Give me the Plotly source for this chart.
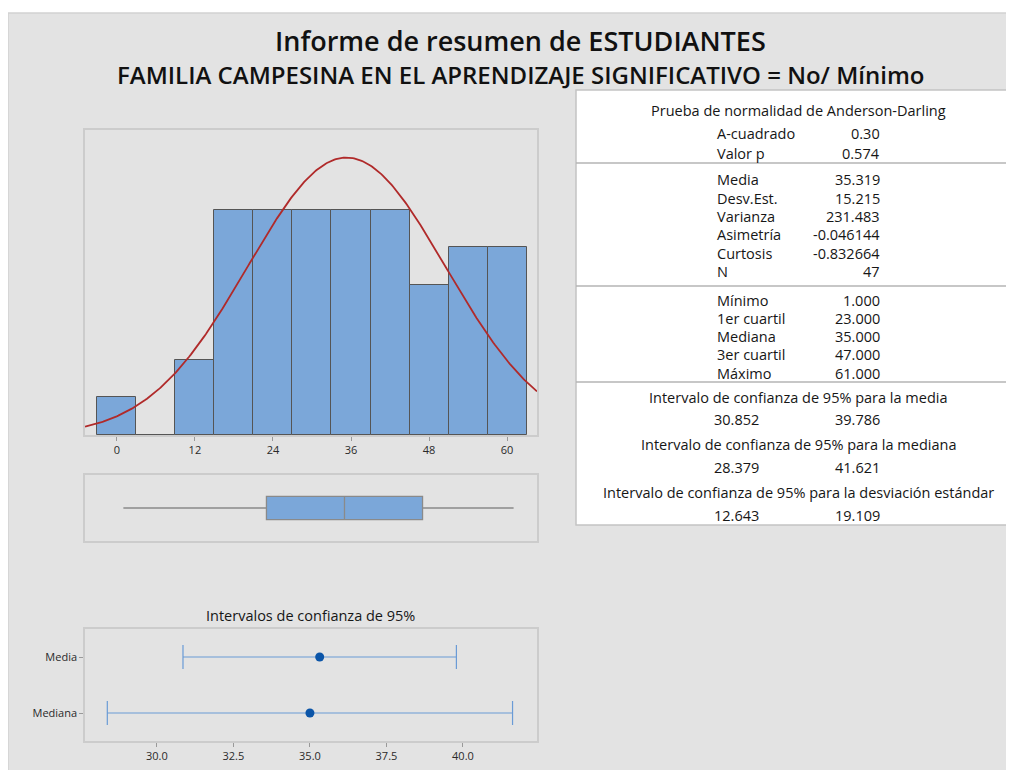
import numpy as np
import plotly.graph_objects as go

# histogram data (bin width 6)
bin_centers = [0, 6, 12, 18, 24, 30, 36, 42, 48, 54, 60]
counts = [1, 0, 2, 6, 6, 6, 6, 6, 4, 5, 5]
hist_ticks = [0, 12, 24, 36, 48, 60]

# summary statistics
media = 35.319
desv = 15.215
n = 47
minimo, q1, mediana, q3, maximo = 1.0, 23.0, 35.0, 47.0, 61.0

# confidence intervals
ci_names = ["Media", "Mediana"]
ci_center = [35.319, 35.0]
ci_low = [30.852, 28.379]
ci_high = [39.786, 41.621]
ci_ticks = [30.0, 32.5, 35.0, 37.5, 40.0]

# table text
ad_rows = [("A-cuadrado", "0.30"), ("Valor p", "0.574")]
desc_rows = [("Media", "35.319"), ("Desv.Est.", "15.215"), ("Varianza", "231.483"),
             ("Asimetría", "-0.046144"), ("Curtosis", "-0.832664"), ("N", "47")]
quart_rows = [("Mínimo", "1.000"), ("1er cuartil", "23.000"), ("Mediana", "35.000"),
              ("3er cuartil", "47.000"), ("Máximo", "61.000")]
ci_rows = [("Intervalo de confianza de 95% para la media", "30.852", "39.786"),
           ("Intervalo de confianza de 95% para la mediana", "28.379", "41.621"),
           ("Intervalo de confianza de 95% para la desviación estándar", "12.643", "19.109")]

W, H = 1014, 770
OFF = 8  # page body margin
FONT = "Open Sans"
BLUE = "#7ba7d9"
EDGE = "#555555"
FRAME = "#cccccc"


def px(x):
    return (x - OFF) / W


def py(y):
    return 1 - (y - OFF) / H


fig = go.Figure()

# histogram
fig.add_trace(go.Bar(x=bin_centers, y=counts, width=6,
                     marker=dict(color=BLUE, line=dict(color=EDGE, width=1)),
                     xaxis="x", yaxis="y", hoverinfo="skip"))

# fitted normal curve
xr = [-4.9, 64.6]
xc = np.linspace(xr[0], xr[1], 300)
yc = n * 6 / (desv * np.sqrt(2 * np.pi)) * np.exp(-0.5 * ((xc - media) / desv) ** 2)
fig.add_trace(go.Scatter(x=xc, y=yc, mode="lines", line=dict(color="#b02a2a", width=1.8),
                         xaxis="x", yaxis="y", hoverinfo="skip"))

# boxplot
fig.add_trace(go.Box(y=[0], q1=[q1], median=[mediana], q3=[q3], lowerfence=[minimo],
                     upperfence=[maximo], orientation="h", width=0.7, whiskerwidth=0,
                     fillcolor=BLUE, line=dict(color="#8a8a8a", width=1.3),
                     xaxis="x2", yaxis="y2", hoverinfo="skip"))

# confidence intervals
fig.add_trace(go.Scatter(
    x=ci_center, y=[0, 1], mode="markers",
    marker=dict(color="#0b55a8", size=9),
    error_x=dict(type="data", symmetric=False,
                 array=[h - c for h, c in zip(ci_high, ci_center)],
                 arrayminus=[c - l for l, c in zip(ci_low, ci_center)],
                 color="#6a9bd6", thickness=1.2, width=12),
    xaxis="x3", yaxis="y3", hoverinfo="skip"))

axis_common = dict(showline=True, mirror=True, linecolor=FRAME, linewidth=1.5,
                   showgrid=False, zeroline=False)
tickfont = dict(family=FONT, size=11, color="#2a2a2a")

fig.update_layout(
    width=W, height=H, autosize=False,
    margin=dict(l=0, r=0, t=0, b=0),
    paper_bgcolor="white", plot_bgcolor="white",
    showlegend=False, bargap=0,
    xaxis=dict(domain=[px(85), px(537)], range=xr, tickvals=hist_ticks,
               ticks="outside", ticklen=4, tickcolor="#999999", tickfont=tickfont,
               anchor="y", **axis_common),
    yaxis=dict(domain=[py(435), py(130)], range=[0, 8.13], showticklabels=False,
               anchor="x", **axis_common),
    xaxis2=dict(domain=[px(85), px(537)], range=xr, showticklabels=False,
                anchor="y2", **axis_common),
    yaxis2=dict(domain=[py(541), py(475)], range=[-1, 1], showticklabels=False,
                anchor="x2", **axis_common),
    xaxis3=dict(domain=[px(85), px(537)], range=[27.65, 42.42], tickvals=ci_ticks,
                ticktext=[f"{t:.1f}" for t in ci_ticks],
                ticks="outside", ticklen=4, tickcolor="#999999", tickfont=tickfont,
                anchor="y3", **axis_common),
    yaxis3=dict(domain=[py(741), py(629)], range=[1.5, -0.5], tickvals=[0, 1],
                ticktext=ci_names, ticks="outside", ticklen=4, tickcolor="#999999",
                tickfont=tickfont, anchor="x3", **axis_common),
)

# background panels
fig.add_shape(type="rect", xref="paper", yref="paper", x0=px(8), x1=px(1030),
              y0=py(790), y1=py(13), fillcolor="#e3e3e3",
              line=dict(color="#d2d2d2", width=1.5), layer="below")
fig.add_shape(type="rect", xref="paper", yref="paper", x0=px(576), x1=px(1030),
              y0=py(525), y1=py(90), fillcolor="white",
              line=dict(color="#c4c4c4", width=1.5), layer="below")
for yl in [163, 286, 382]:
    fig.add_shape(type="line", xref="paper", yref="paper", x0=px(576), x1=px(1030),
                  y0=py(yl), y1=py(yl), line=dict(color="#b5b5b5", width=1.5))


def text(x, y, s, size=14.5, anchor="center", weight=None, color="#161616"):
    f = dict(family=FONT, size=size, color=color)
    if weight:
        f["weight"] = weight
    fig.add_annotation(x=px(x), y=py(y), xref="paper", yref="paper", text=s,
                       showarrow=False, xanchor=anchor, yanchor="middle", font=f)


# titles
text(520, 40, "Informe de resumen de ESTUDIANTES", size=27, weight=600, color="#111111")
text(520, 75, "FAMILIA CAMPESINA EN EL APRENDIZAJE SIGNIFICATIVO = No/ Mínimo",
     size=24, weight=600, color="#111111")
text(310, 615, "Intervalos de confianza de 95%", size=14.5)

# table
LX, VX, CX = 715, 882, 798
text(CX, 111, "Prueba de normalidad de Anderson-Darling")
y = 133
for lab, val in ad_rows:
    text(LX, y, lab, anchor="left")
    text(VX, y, val, anchor="right")
    y += 20
y = 180
for lab, val in desc_rows:
    text(LX, y, lab, anchor="left")
    text(VX, y, val, anchor="right")
    y += 18.3
y = 300
for lab, val in quart_rows:
    text(LX, y, lab, anchor="left")
    text(VX, y, val, anchor="right")
    y += 18.3
y = 397
for lab, lo, hi in ci_rows:
    text(CX, y, lab)
    text(761, y + 23, lo, anchor="right")
    text(VX, y + 23, hi, anchor="right")
    y += 47.5

fig.write_html("out.html")
